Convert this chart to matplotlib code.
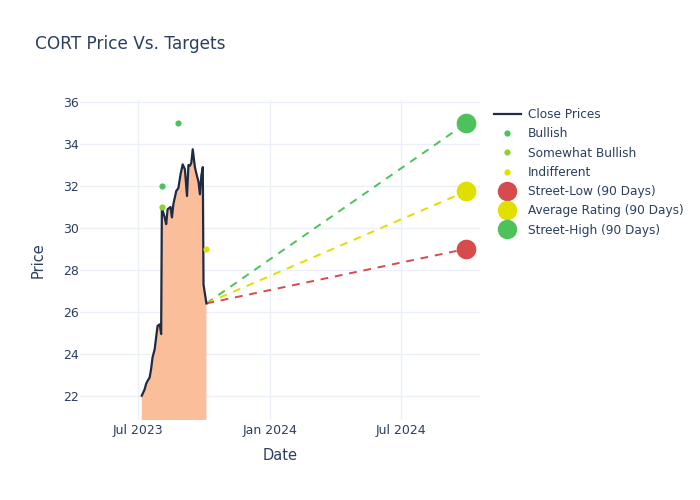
import pandas as pd
import numpy as np
import matplotlib.pyplot as plt
import matplotlib.dates as mdates
from matplotlib.lines import Line2D

# close prices
price_dates = ['2023-07-06', '2023-07-10', '2023-07-12', '2023-07-14', '2023-07-17', '2023-07-19',
               '2023-07-21', '2023-07-24', '2023-07-26', '2023-07-28', '2023-07-31', '2023-08-02',
               '2023-08-03', '2023-08-07', '2023-08-09', '2023-08-11', '2023-08-15', '2023-08-17',
               '2023-08-19', '2023-08-23', '2023-08-26', '2023-08-29', '2023-09-01', '2023-09-04',
               '2023-09-05', '2023-09-07', '2023-09-09', '2023-09-11', '2023-09-13', '2023-09-15',
               '2023-09-18', '2023-09-20', '2023-09-23', '2023-09-25', '2023-09-27', '2023-09-29',
               '2023-09-30', '2023-10-04']
close = [22.0, 22.3, 22.56, 22.7, 22.87, 23.27, 23.82, 24.22, 24.78, 25.33, 25.4, 24.94,
         30.97, 30.49, 30.18, 30.89, 31.0, 30.5, 31.13, 31.76, 31.9, 32.56, 33.03, 32.8,
         32.4, 31.52, 33.0, 32.96, 33.1, 33.75, 32.9, 32.6, 32.2, 31.6, 32.5, 32.9,
         27.3, 26.4]

bullish_dates = ['2023-08-03', '2023-08-26']
bullish_vals = [32, 35]
somewhat_dates = ['2023-08-03']
somewhat_vals = [31]
indiff_dates = ['2023-10-03']
indiff_vals = [29]

target_date = '2024-09-30'
street_low = 29
avg_rating = 31.75
street_high = 35

price_dates = pd.to_datetime(price_dates)
bullish_dates = pd.to_datetime(bullish_dates)
somewhat_dates = pd.to_datetime(somewhat_dates)
indiff_dates = pd.to_datetime(indiff_dates)
target_date = pd.to_datetime(target_date)

font_c = '#2a3f5f'
grid_c = '#ebf0f8'
red = '#d64b4b'
yellow = '#dfdf00'
green = '#4dc25a'
lime = '#8fd12c'

plt.rcParams['font.family'] = 'DejaVu Sans'

fig = plt.figure(figsize=(7, 5), dpi=100)
ax = fig.add_axes([80/700, 80/500, 400/700, 320/500])

ax.fill_between(price_dates, close, 0, color='#fbbe9a', lw=0)
ax.plot(price_dates, close, color='#1f2a44', lw=1.6, zorder=3)

last_d, last_p = price_dates[-1], close[-1]
for val, c in [(street_high, green), (avg_rating, yellow), (street_low, red)]:
    ax.plot([last_d, target_date], [last_p, val], color=c, lw=1.4, dashes=(4, 3.5), zorder=2)

ax.scatter(bullish_dates, bullish_vals, s=20, color=green, lw=0, zorder=4)
ax.scatter(somewhat_dates, somewhat_vals, s=20, color=lime, lw=0, zorder=4)
ax.scatter(indiff_dates, indiff_vals, s=20, color=yellow, lw=0, zorder=4)
ax.scatter([target_date], [street_low], s=200, color=red, lw=0, zorder=5)
ax.scatter([target_date], [avg_rating], s=200, color=yellow, lw=0, zorder=5)
ax.scatter([target_date], [street_high], s=200, color=green, lw=0, zorder=5)

ax.set_xlim(pd.Timestamp('2023-04-11'), pd.Timestamp('2024-10-19'))
ax.set_ylim(20.84, 36.1)
ax.set_yticks(np.arange(22, 37, 2))
ax.set_xticks(pd.to_datetime(['2023-07-01', '2024-01-01', '2024-07-01']))
ax.xaxis.set_major_formatter(mdates.DateFormatter('%b %Y'))

ax.grid(True, color=grid_c, lw=1)
ax.set_axisbelow(True)
for s in ax.spines.values():
    s.set_visible(False)
ax.tick_params(axis='x', length=0, colors=font_c, labelsize=9, pad=3)
ax.tick_params(axis='y', length=0, colors=font_c, labelsize=9, pad=1)

ax.set_xlabel('Date', color=font_c, fontsize=10.5, labelpad=8)
ax.set_ylabel('Price', color=font_c, fontsize=10.5, labelpad=12)
fig.text(35/700, 1 - 44/500, 'CORT Price Vs. Targets', color=font_c, fontsize=12.2, va='center')

handles = [
    Line2D([], [], color='#1f2a44', lw=1.6),
    Line2D([], [], marker='o', ls='', color=green, markersize=4.5, mew=0),
    Line2D([], [], marker='o', ls='', color=lime, markersize=4.5, mew=0),
    Line2D([], [], marker='o', ls='', color=yellow, markersize=4.5, mew=0),
    Line2D([], [], marker='o', ls='', color=red, markersize=14, mew=0),
    Line2D([], [], marker='o', ls='', color=yellow, markersize=14, mew=0),
    Line2D([], [], marker='o', ls='', color=green, markersize=14, mew=0),
]
labels = ['Close Prices', 'Bullish', 'Somewhat Bullish', 'Indifferent',
          'Street-Low (90 Days)', 'Average Rating (90 Days)', 'Street-High (90 Days)']
leg = fig.legend(handles, labels, loc='upper left', bbox_to_anchor=(494/700, 1 - 108/500),
                 frameon=False, fontsize=8.7, labelspacing=0.52, handlelength=2.2,
                 handletextpad=0.6, borderaxespad=0, borderpad=0)
for t in leg.get_texts():
    t.set_color(font_c)

plt.savefig('out.png', dpi=100)
